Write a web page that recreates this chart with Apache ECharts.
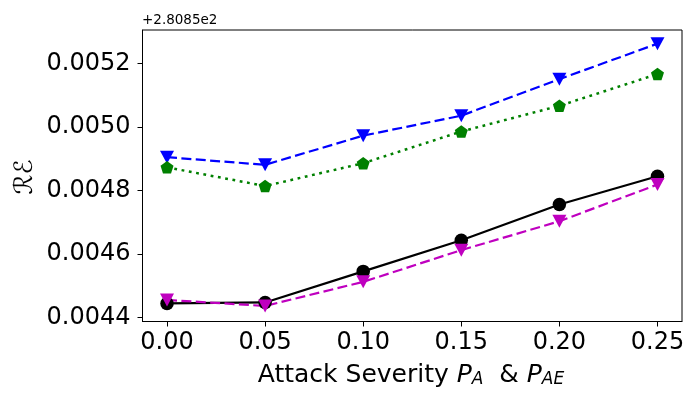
<!DOCTYPE html>
<html>
<head>
<meta charset="utf-8">
<script src="https://cdn.jsdelivr.net/npm/echarts@6/dist/echarts.min.js"></script>
<style>
  html, body { margin: 0; padding: 0; background: #fff; }
  #chart { width: 700px; height: 400px; }
</style>
</head>
<body>
<div id="chart"></div>
<script>
// datos (valores relativos al offset +2.8085e2)
const severidad = [0.00, 0.05, 0.10, 0.15, 0.20, 0.25];
const serieNegra = [0.004444, 0.004447, 0.004545, 0.004643, 0.004756, 0.004845];
const serieAzul = [0.004905, 0.004881, 0.004973, 0.005036, 0.005151, 0.005263];
const serieVerde = [0.004873, 0.004814, 0.004886, 0.004986, 0.005067, 0.005167];
const serieMagenta = [0.004455, 0.004436, 0.004512, 0.004612, 0.004703, 0.004819];
const ticksX = [0.00, 0.05, 0.10, 0.15, 0.20, 0.25];
const ticksY = [0.0044, 0.0046, 0.0048, 0.0050, 0.0052];
const offsetTexto = '+2.8085e2';

const fuente = 'DejaVu Sans';
const pentagono = 'path://M0,-1 L0.951,-0.309 L0.588,0.809 L-0.588,0.809 L-0.951,-0.309 Z';

function pares(valores) {
  return severidad.map((x, i) => [x, valores[i]]);
}

const chart = echarts.init(document.getElementById('chart'), null, { renderer: 'canvas' });

const option = {
  animation: false,
  backgroundColor: '#fff',
  grid: {
    left: 142.5,
    right: 18,
    top: 30,
    bottom: 78.5,
    show: true,
    borderColor: '#000',
    borderWidth: 1,
    backgroundColor: 'transparent'
  },
  xAxis: {
    type: 'value',
    min: -0.0125,
    max: 0.2625,
    axisLine: { show: true, onZero: false, lineStyle: { color: '#000', width: 1 } },
    splitLine: { show: false },
    axisTick: {
      show: true,
      length: 5,
      customValues: ticksX,
      lineStyle: { color: '#000', width: 1 }
    },
    axisLabel: {
      customValues: ticksX,
      fontFamily: fuente,
      fontSize: 24,
      color: '#000',
      margin: 9,
      formatter: v => v.toFixed(2)
    }
  },
  yAxis: {
    type: 'value',
    min: 0.004387,
    max: 0.005306,
    axisLine: { show: true, onZero: false, lineStyle: { color: '#000', width: 1 } },
    splitLine: { show: false },
    axisTick: {
      show: true,
      length: 5,
      customValues: ticksY,
      lineStyle: { color: '#000', width: 1 }
    },
    axisLabel: {
      customValues: ticksY,
      fontFamily: fuente,
      fontSize: 24,
      color: '#000',
      margin: 12,
      formatter: v => v.toFixed(4)
    }
  },
  graphic: [
    {
      type: 'text',
      left: 142,
      top: 13,
      style: { text: offsetTexto, font: '13.5px "DejaVu Sans"', fill: '#000' }
    },
    {
      type: 'text',
      x: 25,
      y: 177,
      rotation: Math.PI / 2,
      style: {
        text: 'ℛℰ',
        font: 'italic 25px "DejaVu Sans"',
        fill: '#000',
        align: 'center',
        verticalAlign: 'middle'
      }
    },
    {
      type: 'text',
      x: 411,
      y: 373,
      style: {
        text: '{n|Attack Severity }{i|P}{s|A}{n|  & }{i|P}{s|AE}',
        align: 'center',
        verticalAlign: 'middle',
        rich: {
          n: { fontFamily: fuente, fontSize: 25, lineHeight: 30, verticalAlign: 'bottom', fill: '#000' },
          i: { fontFamily: fuente, fontSize: 25, fontStyle: 'italic', lineHeight: 30, verticalAlign: 'bottom', fill: '#000' },
          s: { fontFamily: fuente, fontSize: 17, fontStyle: 'italic', lineHeight: 10, verticalAlign: 'bottom', fill: '#000' }
        }
      }
    }
  ],
  series: [
    {
      name: 'negra',
      type: 'line',
      data: pares(serieNegra),
      symbol: 'circle',
      symbolSize: 13.5,
      itemStyle: { color: '#000' },
      lineStyle: { color: '#000', width: 2.2 }
    },
    {
      name: 'azul',
      type: 'line',
      data: pares(serieAzul),
      symbol: 'triangle',
      symbolRotate: 180,
      symbolSize: [14, 13],
      itemStyle: { color: '#0000ff' },
      lineStyle: { color: '#0000ff', width: 2.2, type: [10, 4.4] }
    },
    {
      name: 'verde',
      type: 'line',
      data: pares(serieVerde),
      symbol: pentagono,
      symbolSize: [13, 12.5],
      itemStyle: { color: '#008000' },
      lineStyle: { color: '#008000', width: 2.5, type: [2.8, 4.6] }
    },
    {
      name: 'magenta',
      type: 'line',
      data: pares(serieMagenta),
      symbol: 'triangle',
      symbolRotate: 180,
      symbolSize: [14, 13],
      itemStyle: { color: '#bf00bf' },
      lineStyle: { color: '#bf00bf', width: 2.2, type: [10, 4.4] }
    }
  ]
};

chart.setOption(option);
</script>
</body>
</html>
